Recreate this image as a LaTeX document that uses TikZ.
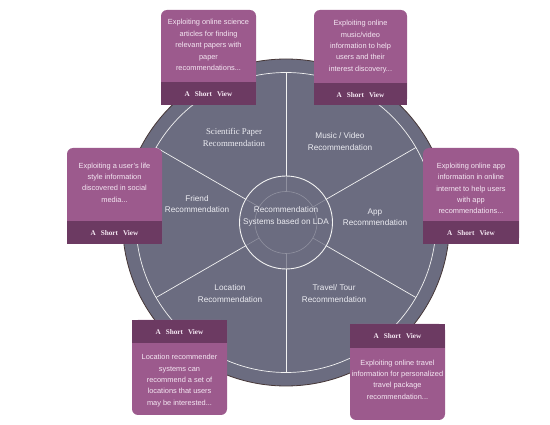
\documentclass[tikz,border=0pt]{standalone}
\usepackage{fontspec}
\usetikzlibrary{calc}
\setmainfont{Liberation Serif}
\setsansfont{Liberation Sans}
\begin{document}
\begin{tikzpicture}[x=1pt,y=-1pt,
  every node/.style={inner sep=0pt},
  boxtext/.style={font=\sffamily\fontsize{7.4}{11.4}\selectfont, text=txtlight, align=center},
  bandtext/.style={font=\rmfamily\bfseries\fontsize{7.2}{9}\selectfont, text=txtlight},
  seclabel/.style={font=\sffamily\fontsize{8.2}{11.5}\selectfont, text=circtxt, align=center},
  serlabel/.style={font=\rmfamily\fontsize{8.8}{12.5}\selectfont, text=circtxt, align=center},
  lightbox/.style={fill=boxlight, rounded corners=6pt},
  bandbox/.style={fill=boxdark},
  divider/.style={draw=white!90!gray, line width=0.7pt},
  faint/.style={draw=white!25!circfill, line width=0.6pt}
]
\definecolor{circfill}{RGB}{107,108,128}
\definecolor{circedge}{RGB}{70,55,55}
\definecolor{boxlight}{RGB}{156,90,141}
\definecolor{boxdark}{RGB}{108,58,98}
\definecolor{txtlight}{RGB}{245,232,243}
\definecolor{circtxt}{RGB}{236,236,242}
\useasboundingbox (0,0) rectangle (550,425);
\fill[white] (0,0) rectangle (550,425);
% main disc
\coordinate (C) at (286,222.5);
\fill[circfill] (C) circle[radius=163.5];
\draw[circedge, line width=0.8pt] (C) circle[radius=163.5];
\draw[divider] (C) circle[radius=150];
% dividers
\foreach \a in {90,30,-30,-90,-150,150}{
  \draw[divider] ($(C)+(\a:46.5)$) -- ($(C)+(\a:150)$);
  \draw[faint] ($(C)+(\a:31)$) -- ($(C)+(\a:46.5)$);
}
\draw[faint] (C) circle[radius=31];
\draw[divider, line width=0.9pt] (C) circle[radius=46.5];
% labels in circle
\node[seclabel] (center) at (286,216.5) {Recommendation\\Systems based on LDA};
\node[serlabel] (sci) at (234,137.5) {Scientific Paper\\Recommendation};
\node[seclabel] (music) at (340,141.5) {Music / Video\\Recommendation};
\node[seclabel] (friend) at (197,204) {Friend\\Recommendation};
\node[seclabel] (app) at (375,217) {App\\Recommendation};
\node[seclabel] (loc) at (230,293.5) {Location\\Recommendation};
\node[seclabel] (travel) at (334,293.5) {Travel/ Tour\\Recommendation};
% box 1
\fill[lightbox] (161,10) rectangle (256,105);
\fill[bandbox] (161,82) rectangle (256,105);
\node[boxtext] (b1) at (208.5,45) {Exploiting online science\\articles for finding\\relevant papers with\\paper\\recommendations...};
\node[bandtext] (b1v) at (208.5,94) {A\hspace{5pt}Short\hspace{5pt}View};
% box 2
\fill[lightbox] (314,10) rectangle (407,105);
\fill[bandbox] (314,83) rectangle (407,105);
\node[boxtext] (b2) at (360.5,46.5) {Exploiting online\\music/video\\information to help\\users and their\\interest discovery...};
\node[bandtext] (b2v) at (360.5,95) {A\hspace{5pt}Short\hspace{5pt}View};
% box 3
\fill[lightbox] (423,148) rectangle (519,244);
\fill[bandbox] (423,221) rectangle (519,244);
\node[boxtext] (b3) at (471,188.5) {Exploiting online app\\information in online\\internet to help users\\with app\\recommendations...};
\node[bandtext] (b3v) at (471,233) {A\hspace{5pt}Short\hspace{5pt}View};
% box 4
\fill[lightbox] (67,148) rectangle (162,244);
\fill[bandbox] (67,221) rectangle (162,244);
\node[boxtext] (b4) at (114.5,182.5) {Exploiting a user's life\\style information\\discovered in social\\media...};
\node[bandtext] (b4v) at (114.5,233) {A\hspace{5pt}Short\hspace{5pt}View};
% box 5
\fill[lightbox] (132,320) rectangle (227,415);
\fill[bandbox] (132,320) rectangle (227,343);
\node[bandtext] (b5v) at (179.5,332) {A\hspace{5pt}Short\hspace{5pt}View};
\node[boxtext] (b5) at (179.5,380.5) {Location recommender\\systems can\\recommend a set of\\locations that users\\may be interested...};
% box 6
\fill[lightbox] (350,324) rectangle (445,420);
\fill[bandbox] (350,324) rectangle (445,348);
\node[bandtext] (b6v) at (397.5,336) {A\hspace{5pt}Short\hspace{5pt}View};
\node[boxtext] (b6) at (397.5,379.5) {Exploiting online travel\\information for personalized\\travel package\\recommendation...};
\end{tikzpicture}
\end{document}
